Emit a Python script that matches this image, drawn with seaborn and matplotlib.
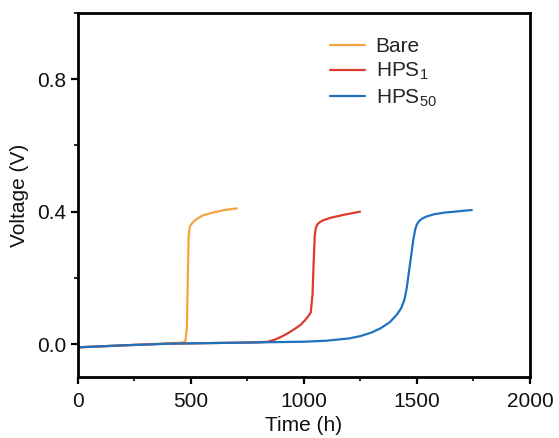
import matplotlib
matplotlib.use("Agg")
import matplotlib.pyplot as plt
from matplotlib.ticker import MultipleLocator
import seaborn as sns
import pandas as pd

# ---- data ----
bare_t = [0, 100, 200, 300, 400, 460, 475, 482, 486, 490, 495, 505, 520, 550, 600, 650, 703]
bare_v = [-0.010, -0.007, -0.004, -0.001, 0.002, 0.004, 0.008, 0.05, 0.20, 0.33, 0.355, 0.365,
          0.375, 0.388, 0.398, 0.405, 0.41]

hps1_t = [0, 200, 400, 600, 800, 840, 870, 900, 930, 960, 985, 1005, 1020, 1030, 1038, 1043,
          1048, 1053, 1060, 1070, 1085, 1120, 1180, 1248]
hps1_v = [-0.010, -0.004, 0.001, 0.003, 0.005, 0.007, 0.013, 0.022, 0.033, 0.046, 0.058, 0.072,
          0.085, 0.095, 0.15, 0.25, 0.33, 0.352, 0.362, 0.368, 0.374, 0.382, 0.391, 0.40]

hps50_t = [0, 200, 400, 600, 800, 1000, 1100, 1200, 1250, 1300, 1340, 1380, 1410, 1430, 1445,
           1455, 1465, 1475, 1485, 1493, 1500, 1510, 1525, 1545, 1575, 1620, 1680, 1743]
hps50_v = [-0.010, -0.004, 0.001, 0.003, 0.005, 0.007, 0.010, 0.017, 0.024, 0.035, 0.048, 0.066,
           0.088, 0.108, 0.135, 0.17, 0.22, 0.27, 0.32, 0.348, 0.362, 0.372, 0.38, 0.386, 0.392,
           0.397, 0.401, 0.405]

series_names = ["Bare", "HPS$_\\mathregular{1}$", "HPS$_\\mathregular{50}$"]
series_colors = ["#F5A53F", "#DC3B2E", "#1F72BD"]
x_ticks = [0, 500, 1000, 1500, 2000]
y_ticks = [0.0, 0.4, 0.8]

frames = []
for name, t, v in zip(series_names, [bare_t, hps1_t, hps50_t], [bare_v, hps1_v, hps50_v]):
    frames.append(pd.DataFrame({"Time": t, "Voltage": v, "Sample": name}))
df = pd.concat(frames, ignore_index=True)

sns.set_style("ticks")
plt.rcParams["font.family"] = ["Liberation Sans", "DejaVu Sans"]
plt.rcParams["mathtext.fontset"] = "custom"
plt.rcParams["mathtext.rm"] = "Liberation Sans"
plt.rcParams["mathtext.it"] = "Liberation Sans"

fig = plt.figure(figsize=(5.59, 4.38), dpi=100)
ax = fig.add_axes([0.1395, 0.139, 0.8085, 0.831])

sns.lineplot(data=df, x="Time", y="Voltage", hue="Sample", hue_order=series_names,
             palette=series_colors, sort=False, estimator=None, linewidth=1.6, ax=ax)

ax.set_xlim(0, 2000)
ax.set_ylim(-0.1, 1.0)
ax.set_xticks(x_ticks)
ax.set_yticks(y_ticks)
ax.set_xticklabels([str(t) for t in x_ticks])
ax.set_yticklabels([f"{t:.1f}" for t in y_ticks])
ax.xaxis.set_minor_locator(MultipleLocator(250))
ax.yaxis.set_minor_locator(MultipleLocator(0.2))
ax.tick_params(axis="both", which="major", direction="out", length=5, width=1.6,
               labelsize=15, color="black", labelcolor="#111111", top=False, right=False)
ax.tick_params(axis="both", which="minor", direction="out", length=3, width=1.4,
               top=False, right=False)
ax.tick_params(axis="x", which="major", pad=6)

for s in ax.spines.values():
    s.set_visible(True)
    s.set_linewidth(2.0)
    s.set_color("black")

ax.set_xlabel("Time (h)", fontsize=15, labelpad=3, color="#111111")
ax.set_ylabel("Voltage (V)", fontsize=15, labelpad=6, color="#111111")

leg = ax.legend(loc="upper left", bbox_to_anchor=(0.557, 0.935), frameon=False,
                fontsize=15, handlelength=1.7, handletextpad=0.5, labelspacing=0.25,
                borderpad=0, borderaxespad=0)
for line in leg.get_lines():
    line.set_linewidth(1.6)

fig.savefig("out.png", dpi=100)
